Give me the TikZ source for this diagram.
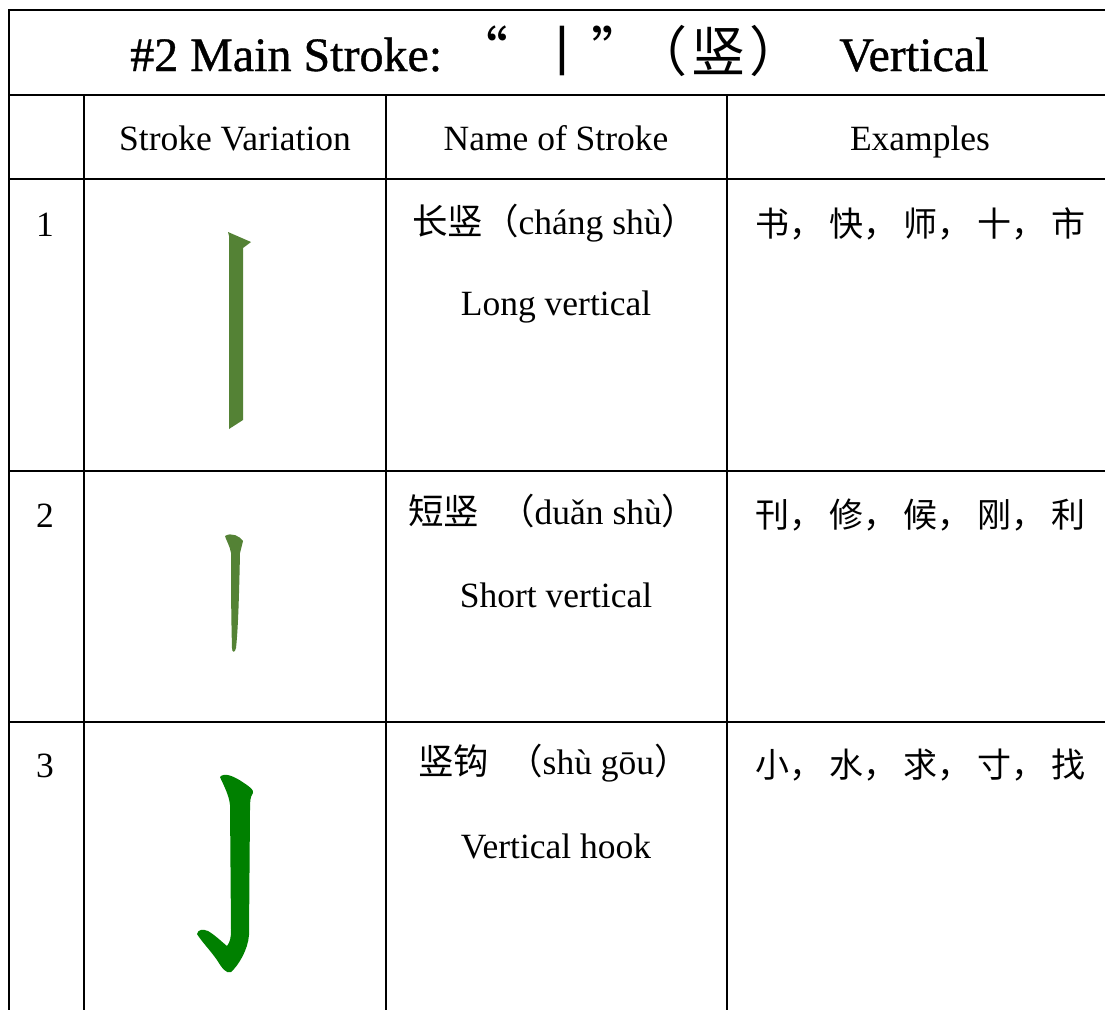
\documentclass[tikz,border=0pt]{standalone}
\usepackage{fontspec}
\setmainfont{Liberation Serif}
\newfontfamily\cjk{Noto Sans CJK SC}
\newfontfamily\titlefont{Liberation Serif}[FakeBold=0.8]
\definecolor{strokeolive}{RGB}{84,130,53}
\definecolor{strokegreen}{RGB}{0,128,0}
\begin{document}
\begin{tikzpicture}[x=1pt,y=-1pt,
  gridline/.style={line width=2pt,black},
  bodytext/.style={font=\fontsize{35.5}{40}\selectfont,anchor=base,inner sep=0pt},
  westtext/.style={bodytext,anchor=base west},
  titletext/.style={font=\fontsize{48}{54}\selectfont\titlefont,anchor=base west,inner sep=0pt},
  titlecjk/.style={font=\fontsize{54}{60}\selectfont\cjk,anchor=base,inner sep=0pt}]
\useasboundingbox (0,0) rectangle (1105,1010);
\fill[white] (0,0) rectangle (1105,1010);
% grid
\draw[gridline] (1105,10) -- (9,10) -- (9,1010);
\draw[gridline] (9,95) -- (1105,95);
\draw[gridline] (9,179) -- (1105,179);
\draw[gridline] (9,471) -- (1105,471);
\draw[gridline] (9,722) -- (1105,722);
\draw[gridline] (84,95) -- (84,1010);
\draw[gridline] (386,95) -- (386,1010);
\draw[gridline] (727,95) -- (727,1010);
% title
\node[titletext] (title1) at (130,71) {\#2 Main Stroke:};
\node[titlecjk] (title2) at (550,71) {“\hspace{28pt}丨\hspace{2pt}”};
\node[titlecjk] (title3) at (718,71) {（\hspace{4pt}竖\hspace{4pt}）};
\node[titletext] (title4) at (839,71) {Vertical};
% header
\node[bodytext] (hvar) at (235,150) {Stroke Variation};
\node[bodytext] (hname) at (556,150) {Name of Stroke};
\node[bodytext] (hex) at (920,150) {Examples};
% row numbers
\node[bodytext] (n1) at (45,236) {1};
\node[bodytext] (n2) at (45,527) {2};
\node[bodytext] (n3) at (45,777) {3};
% names
\node[westtext] (p1) at (412,234) {{\cjk 长竖（}cháng shù{\cjk ）}};
\node[bodytext] (e1) at (556,315) {Long vertical};
\node[westtext] (p2) at (408,524) {{\cjk 短竖\hspace{20pt}（}duǎn shù{\cjk ）}};
\node[bodytext] (e2) at (556,607) {Short vertical};
\node[westtext] (p3) at (418,774) {{\cjk 竖钩\hspace{18pt}（}shù gōu{\cjk ）}};
\node[bodytext] (e3) at (556,858) {Vertical hook};
% examples
\node[westtext] (x1) at (755,236) {\fontsize{34}{40}\selectfont\cjk 书，\hspace{6pt}快，\hspace{6pt}师，\hspace{6pt}十，\hspace{6pt}市};
\node[westtext] (x2) at (755,527) {\fontsize{34}{40}\selectfont\cjk 刊，\hspace{6pt}修，\hspace{6pt}候，\hspace{6pt}刚，\hspace{6pt}利};
\node[westtext] (x3) at (755,777) {\fontsize{34}{40}\selectfont\cjk 小，\hspace{6pt}水，\hspace{6pt}求，\hspace{6pt}寸，\hspace{6pt}找};
% stroke 1: long vertical
\fill[strokeolive] (228,232) -- (251,242) -- (243,248) -- (243,420) -- (229,429) -- (229,236) -- cycle;
% stroke 2: short vertical
\fill[strokeolive] (225,536) .. controls (231,532) and (240,536) .. (243,541)
  -- (240,553) .. controls (239,600) and (238,630) .. (236,648)
  .. controls (235,653) and (232,653) .. (232,648)
  .. controls (231,610) and (231,580) .. (231,553)
  .. controls (230,546) and (226,540) .. (225,536) -- cycle;
% stroke 3: vertical hook
\fill[strokegreen] (220,777) .. controls (224,772) and (234,776) .. (244,783)
  .. controls (250,787) and (254,790) .. (253,793)
  .. controls (250,797) and (250,802) .. (250,810)
  -- (249,935) .. controls (248,950) and (238,966) .. (231,972)
  .. controls (226,974) and (222,968) .. (217,960)
  .. controls (210,950) and (202,942) .. (197,934)
  .. controls (198,929) and (203,929) .. (208,931)
  .. controls (215,935) and (222,942) .. (227,946)
  .. controls (230,942) and (231,938) .. (231,930)
  -- (230,805) .. controls (229,795) and (224,786) .. (220,777) -- cycle;
\end{tikzpicture}
\end{document}
